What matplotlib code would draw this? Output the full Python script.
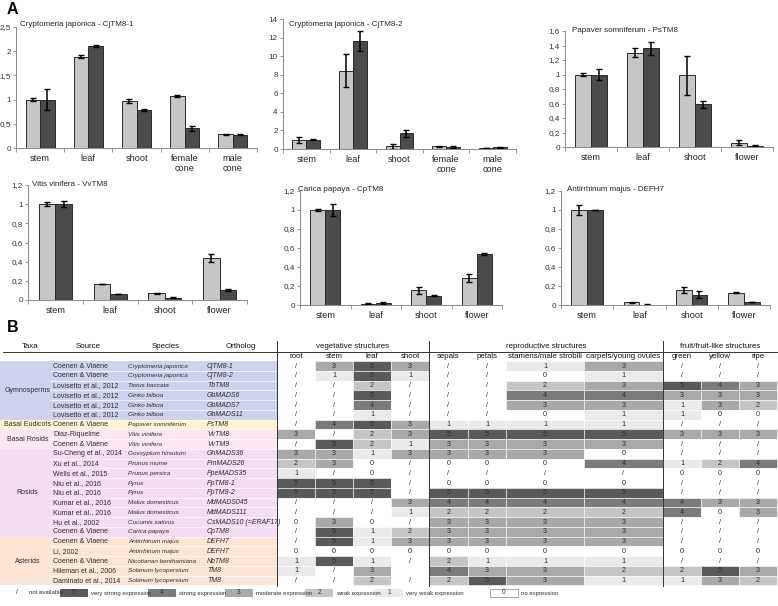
import matplotlib
matplotlib.use('Agg')
import matplotlib.pyplot as plt
from matplotlib.patches import Rectangle
import numpy as np

plt.rcParams['font.family'] = ['Liberation Sans', 'DejaVu Sans']

W, H = 778, 606
fig = plt.figure(figsize=(W / 100, H / 100), dpi=100)

# ---------------- Panel A data ----------------
four_cats = ["stem", "leaf", "shoot", "flower"]
five_cats = ["stem", "leaf", "shoot", "female\ncone", "male\ncone"]

cj1_title = "Cryptomeria japonica - CjTM8-1"
cj1_light = [1.0, 1.89, 0.97, 1.08, 0.28]
cj1_light_err = [0.03, 0.04, 0.04, 0.02, 0.015]
cj1_dark = [1.0, 2.1, 0.79, 0.41, 0.27]
cj1_dark_err = [0.21, 0.02, 0.025, 0.05, 0.01]
cj1_ticks = [0, 0.5, 1, 1.5, 2, 2.5]
cj1_ticklabels = ["0", "0,5", "1", "1,5", "2", "2,5"]

cj2_title = "Cryptomeria japonica - CjTM8-2"
cj2_light = [1.0, 8.45, 0.3, 0.3, 0.08]
cj2_light_err = [0.3, 1.75, 0.25, 0.05, 0.02]
cj2_dark = [1.0, 11.65, 1.7, 0.2, 0.18]
cj2_dark_err = [0.05, 1.05, 0.4, 0.08, 0.04]
cj2_ticks = [0, 2, 4, 6, 8, 10, 12, 14]
cj2_ticklabels = ["0", "2", "4", "6", "8", "10", "12", "14"]

ps_title = "Papaver somniferum - PsTM8"
ps_light = [1.0, 1.3, 0.99, 0.06]
ps_light_err = [0.02, 0.06, 0.27, 0.035]
ps_dark = [1.0, 1.36, 0.59, 0.02]
ps_dark_err = [0.075, 0.09, 0.05, 0.008]
ps_ticks = [0, 0.2, 0.4, 0.6, 0.8, 1.0, 1.2, 1.4, 1.6]
ps_ticklabels = ["0", "0,2", "0,4", "0,6", "0,8", "1", "1,2", "1,4", "1,6"]

vv_title = "Vitis vinifera - VvTM8"
vv_light = [1.0, 0.167, 0.07, 0.435]
vv_light_err = [0.02, 0.005, 0.006, 0.04]
vv_dark = [1.0, 0.063, 0.024, 0.104]
vv_dark_err = [0.03, 0.003, 0.004, 0.007]

cp_title = "Carica papaya - CpTM8"
cp_light = [1.0, 0.012, 0.154, 0.283]
cp_light_err = [0.012, 0.004, 0.04, 0.04]
cp_dark = [1.0, 0.017, 0.097, 0.54]
cp_dark_err = [0.06, 0.01, 0.006, 0.01]

am_title = "Antirrhinum majus - DEFH7"
am_light = [1.0, 0.028, 0.16, 0.13]
am_light_err = [0.055, 0.003, 0.03, 0.004]
am_dark = [1.0, 0.004, 0.108, 0.031]
am_dark_err = [0.005, 0.002, 0.035, 0.003]

small_ticks = [0, 0.2, 0.4, 0.6, 0.8, 1.0, 1.2]
small_ticklabels = ["0", "0,2", "0,4", "0,6", "0,8", "1", "1,2"]

# ---------------- Panel B data ----------------
taxa_groups = ["Gymnosperms", "Basal Eudicots", "Basal Rosids", "Rosids", "Asterids"]
taxa_counts = [6, 1, 2, 9, 5]
taxa_colors = ["#cfd2ec", "#fcf6c9", "#fce6f2", "#f4dcf2", "#fde5d6"]

sources = ["Coenen & Viaene", "Coenen & Viaene", "Lovisetto et al., 2012", "Lovisetto et al., 2012",
           "Lovisetto et al., 2012", "Lovisetto et al., 2012", "Coenen & Viaene", "Díaz-Riquelme",
           "Coenen & Viaene", "Su-Cheng et al., 2014", "Xu et al., 2014", "Wells et al., 2015",
           "Niu et al., 2016", "Niu et al., 2016", "Kumar et al., 2016", "Kumar et al., 2016",
           "Hu et al., 2002", "Coenen & Viaene", "Coenen & Viaene", "Li, 2002", "Coenen & Viaene",
           "Hileman et al., 2006", "Daminato et al., 2014"]
species = ["Cryptomeria japonica", "Cryptomeria japonica", "Taxus baccata", "Ginko bilboa",
           "Ginko bilboa", "Ginko bilboa", "Papaver somniferum", "Vitis vinifera", "Vitis vinifera",
           "Gossypium hirsutum", "Prunus mume", "Prunus persica", "Pyrus", "Pyrus",
           "Malus domesticus", "Malus domesticus", "Cucumis sativus", "Carica papaya",
           "Antirrhinum majus", "Antirrhinum majus", "Nicotianan benthamiana",
           "Solanum lycopersium", "Solanum lycopersium"]
orthologs = ["CjTM8-1", "CjTM8-2", "TbTM8", "GbMADS6", "GbMADS7", "GbMADS11", "PsTM8", "VvTM8",
             "VvTM9", "GhMADS36", "PmMADS26", "PpeMADS35", "PpTM8-1", "PpTM8-2", "MdMADS045",
             "MdMADS111", "CsMADS10 (=ERAF17)", "CpTM8", "DEFH7", "DEFH7", "NbTM8", "TM8", "TM8"]

root    = ['/', '/', '/', '/', '/', '/', '/', '3', '/', '3', '2', '1', '5', '5', '/', '/', '0', '/', '/', '0', '1', '1', '/']
stem    = ['3', '1', '/', '/', '/', '/', '4', '/', '5', '3', '3', '/', '5', '5', '/', '/', '3', '5', '5', '0', '5', '/', '/']
leaf    = ['5', '5', '2', '5', '4', '1', '5', '2', '2', '1', '0', '0', '5', '5', '/', '/', '0', '1', '1', '0', '1', '3', '2']
shoot   = ['3', '1', '/', '/', '/', '/', '3', '3', '1', '3', '/', '/', '/', '/', '3', '1', '/', '2', '3', '0', '/', '', '/']
sepals  = ['/', '/', '/', '/', '/', '/', '1', '5', '3', '3', '0', '/', '0', '5', '4', '2', '3', '3', '3', '0', '2', '4', '2']
petals  = ['/', '/', '/', '/', '/', '/', '1', '5', '3', '3', '0', '/', '0', '5', '4', '2', '3', '3', '3', '0', '1', '3', '5']
stamens = ['1', '0', '2', '4', '3', '0', '1', '5', '3', '3', '0', '/', '0', '5', '4', '2', '3', '3', '3', '0', '1', '3', '3']
carpels = ['3', '1', '3', '4', '3', '1', '1', '5', '3', '0', '4', '/', '0', '5', '4', '2', '3', '3', '3', '0', '1', '2', '1']
green   = ['/', '/', '5', '3', '1', '1', '/', '3', '/', '/', '1', '0', '/', '/', '4', '4', '/', '/', '/', '0', '/', '2', '1']
yellow  = ['/', '/', '4', '3', '3', '0', '/', '3', '/', '/', '2', '0', '/', '/', '3', '0', '/', '/', '/', '0', '/', '5', '3']
ripe    = ['/', '/', '3', '3', '2', '0', '/', '3', '/', '/', '4', '0', '/', '/', '3', '3', '/', '/', '/', '0', '/', '3', '2']

value_columns = [root, stem, leaf, shoot, sepals, petals, stamens, carpels, green, yellow, ripe]
column_headers = ["root", "stem", "leaf", "shoot", "sepals", "petals", "stamens/male strobili",
                  "carpels/young ovules", "green", "yellow", "ripe"]
group_headers = ["vegetative structures", "reproductive structures", "fruit/fruit-like structures"]
group_spans = [4, 4, 3]
left_headers = ["Taxa", "Source", "Species", "Ortholog"]

legend_levels = ['5', '4', '3', '2', '1', '0']
legend_labels = ["very strong expression", "strong expression", "moderate expression",
                 "weak expression", "very weak expression", "no expression"]
level_colors = {'5': '#5a5a5a', '4': '#7b7b7b', '3': '#a9a9a9', '2': '#c5c5c5',
                '1': '#eaeaea', '0': '#ffffff', '/': '#ffffff', '': '#ffffff'}

# ---------------- layout helpers ----------------
def px_rect(l, r, top, bottom):
    return [l / W, 1 - bottom / H, (r - l) / W, (bottom - top) / H]

LIGHT = '#c6c6c6'
DARK = '#4b4b4b'
EDGE = '#2a2a2a'


def bar_panel(rect, cats, light, light_err, dark, dark_err, ticks, ticklabels, title, title_xy):
    ax = fig.add_axes(rect)
    n = len(cats)
    x = np.arange(n)
    bw = 0.3
    ekw = dict(ecolor='black', elinewidth=1.1, capsize=2.2, capthick=1.0)
    ax.bar(x - bw / 2, light, bw, color=LIGHT, edgecolor=EDGE, linewidth=0.7,
           yerr=light_err, error_kw=ekw, zorder=2)
    ax.bar(x + bw / 2, dark, bw, color=DARK, edgecolor=EDGE, linewidth=0.7,
           yerr=dark_err, error_kw=ekw, zorder=2)
    ax.set_xlim(-0.5, n - 0.5)
    ax.set_ylim(ticks[0], ticks[-1])
    ax.set_yticks(ticks)
    ax.set_yticklabels(ticklabels)
    ax.set_xticks(x)
    ax.set_xticklabels(cats, linespacing=1.25)
    ax.set_xticks(np.arange(-0.5, n, 1.0), minor=True)
    ax.tick_params(axis='x', which='major', length=0, pad=4, labelsize=6.6, colors='#222222')
    ax.tick_params(axis='x', which='minor', length=3, width=0.6, color='#888888')
    ax.tick_params(axis='y', length=2.5, width=0.6, color='#888888', pad=1.2,
                   labelsize=5.9, labelcolor='#333333')
    for s in ['top', 'right']:
        ax.spines[s].set_visible(False)
    for s in ['left', 'bottom']:
        ax.spines[s].set_color('#888888')
        ax.spines[s].set_linewidth(0.7)
    ax.patch.set_alpha(0)
    fig.text(title_xy[0] / W, 1 - title_xy[1] / H, title, fontsize=5.8, color='#222222',
             ha='left', va='center')
    return ax


bar_panel(px_rect(16, 257, 27, 148), five_cats, cj1_light, cj1_light_err, cj1_dark, cj1_dark_err,
          cj1_ticks, cj1_ticklabels, cj1_title, (20, 24))
bar_panel(px_rect(283, 516, 19, 149), five_cats, cj2_light, cj2_light_err, cj2_dark, cj2_dark_err,
          cj2_ticks, cj2_ticklabels, cj2_title, (289, 24))
bar_panel(px_rect(565, 773, 31, 147), four_cats, ps_light, ps_light_err, ps_dark, ps_dark_err,
          ps_ticks, ps_ticklabels, ps_title, (572, 31))
bar_panel(px_rect(28, 247, 185, 300), four_cats, vv_light, vv_light_err, vv_dark, vv_dark_err,
          small_ticks, small_ticklabels, vv_title, (32, 185))
bar_panel(px_rect(300, 502, 191, 305), four_cats, cp_light, cp_light_err, cp_dark, cp_dark_err,
          small_ticks, small_ticklabels, cp_title, (298, 189))
bar_panel(px_rect(561, 770, 191, 305), four_cats, am_light, am_light_err, am_dark, am_dark_err,
          small_ticks, small_ticklabels, am_title, (567, 189))

fig.text(7 / W, 1 - 10 / H, "A", fontsize=11.5, fontweight='bold', ha='left', va='center')
fig.text(7 / W, 1 - 327 / H, "B", fontsize=11.5, fontweight='bold', ha='left', va='center')

# ---------------- Panel B table ----------------
tb = fig.add_axes([0, 0, 1, 1])
tb.set_xlim(0, W)
tb.set_ylim(H, 0)
tb.axis('off')
tb.patch.set_alpha(0)

row_top0 = 361.2
row_h = 9.75
left_edges = [0, 50, 127, 205, 277]
val_edges = [277, 315, 353, 391, 429, 468, 506, 584, 663, 701, 739, 777]
TXT = '#2e2e2e'
fs_src = 5.0
fs_sp = 4.6
fs_orth = 5.0
fs_val = 5.2
fs_hdr = 5.7
n_rows = len(sources)

# group backgrounds (left block)
r0 = 0
for g, cnt, col in zip(taxa_groups, taxa_counts, taxa_colors):
    top = row_top0 + r0 * row_h
    tb.add_patch(Rectangle((0, top), left_edges[-1], cnt * row_h, facecolor=col,
                           edgecolor='none', zorder=1))
    tb.text(27.5, top + cnt * row_h / 2, g, fontsize=fs_src, color=TXT, ha='center',
            va='center', zorder=5)
    r0 += cnt
# row separators in left block
for i in range(1, n_rows):
    y = row_top0 + i * row_h
    tb.plot([50, 277], [y, y], color='white', lw=0.6, alpha=0.8, zorder=2)

for i in range(n_rows):
    yc = row_top0 + (i + 0.5) * row_h
    tb.text(53, yc, sources[i], fontsize=fs_src, color=TXT, ha='left', va='center', zorder=5)
    tb.text(128, yc, species[i], fontsize=fs_sp, color=TXT, ha='left', va='center',
            style='italic', zorder=5)
    tb.text(207, yc, orthologs[i], fontsize=fs_orth, color=TXT, ha='left', va='center',
            style='italic', zorder=5)
    for j, colvals in enumerate(value_columns):
        v = colvals[i]
        x0, x1 = val_edges[j], val_edges[j + 1]
        tb.add_patch(Rectangle((x0, row_top0 + i * row_h), x1 - x0, row_h,
                               facecolor=level_colors[v], edgecolor='white', linewidth=0.4,
                               zorder=1))
        tb.text((x0 + x1) / 2, yc, v, fontsize=fs_val, color=TXT, ha='center', va='center',
                zorder=4)

# headers
hdr_y = 346
for k, h in enumerate(left_headers):
    tb.text((left_edges[k] + left_edges[k + 1]) / 2 + (5 if k == 0 else 0), hdr_y, h,
            fontsize=fs_hdr, color='#111111', ha='center', va='center')
tb.plot([3, 777], [351.8, 351.8], color='#333333', lw=0.7)
ci = 0
for gname, span in zip(group_headers, group_spans):
    x0, x1 = val_edges[ci], val_edges[ci + span]
    tb.text((x0 + x1) / 2, hdr_y, gname, fontsize=fs_hdr, color='#111111', ha='center',
            va='center')
    ci += span
for j, h in enumerate(column_headers):
    tb.text((val_edges[j] + val_edges[j + 1]) / 2, 356.5, h, fontsize=fs_hdr, color='#111111',
            ha='center', va='center')
for xv in [277, 429, 663]:
    tb.plot([xv, xv], [341, 586], color='#333333', lw=0.7, zorder=6)

# legend
leg_y = 593
fs_leg = 4.3
tb.text(17, leg_y, "/", fontsize=fs_leg + 0.4, color=TXT, ha='center', va='center')
tb.text(29, leg_y, "not available", fontsize=fs_leg, color=TXT, ha='left', va='center')
box_lefts = [60, 148, 225, 305, 375, 490]
box_w, box_h = 28, 8
for bl, lev, lab in zip(box_lefts, legend_levels, legend_labels):
    tb.add_patch(Rectangle((bl, leg_y - box_h / 2), box_w, box_h, facecolor=level_colors[lev],
                           edgecolor='#999999' if lev == '0' else 'none', linewidth=0.6))
    tb.text(bl + box_w / 2, leg_y, lev, fontsize=fs_leg + 0.4, color=TXT, ha='center',
            va='center')
    tb.text(bl + box_w + 3, leg_y, lab, fontsize=fs_leg, color=TXT, ha='left', va='center')

fig.savefig("out.png", dpi=100)
